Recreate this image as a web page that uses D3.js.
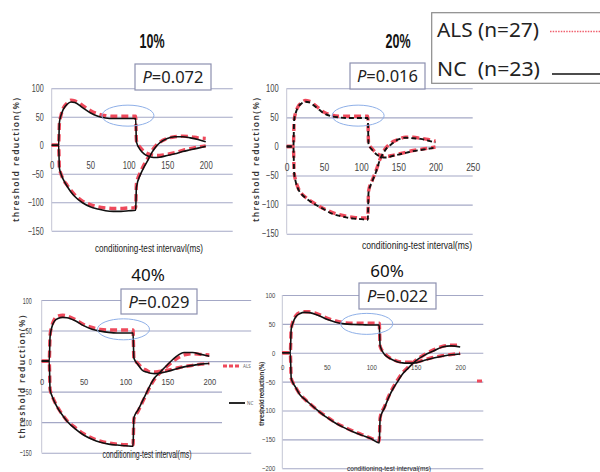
<!DOCTYPE html>
<html><head><meta charset="utf-8">
<script src="https://cdn.jsdelivr.net/npm/d3@7"></script>
<style>
body{margin:0;background:#fff}
svg{display:block}
</style></head><body><svg id="c" width="600" height="472"></svg>
<script>
// ---------------- data ----------------
const ctInterval = [0, 9, 10, 12, 15, 20, 25, 30, 40, 50, 60, 70, 80, 90, 100, 109, 110, 115, 120, 125, 130, 135, 140, 150, 160, 170, 180, 190, 200];

const panelTitles = ["10%", "20%", "40%", "60%"];
const pValues = ["0.072", "0.016", "0.029", "0.022"];
const seriesNames = ["ALS (n=27)", "NC  (n=23)"];
const yTicksA = [100, 50, 0, -50, -100, -150];
const yTicksB = [100, 50, 0, -50, -100, -150, -200];
const xTicksA = [0, 50, 100, 150, 200];
const xTicksB = [0, 50, 100, 150, 200, 250];

// 10%
const alsDep10 = [0,0,38,52,65,74,79,78,70,61,55,52,51,51,51,51,8,-4,-11,-15,-17,-18,-18,-16,-13,-9,-6,-3,-1];
const ncDep10  = [0,0,40,52,63,72,76,75,66,57,51,48,47,47,47,47,6,-8,-15,-19,-21,-21.5,-21,-18,-15,-11,-8,-5,-2];
const alsHyp10 = [0,0,-40,-50,-60,-70,-79,-87,-98,-104,-108,-110,-111,-111,-110,-110,-68,-48,-34,-22,-10,-1,5,12,15,16,15,13,12];
const ncHyp10  = [0,0,-40,-50,-60,-72,-82,-90,-101,-108,-112,-115,-116,-116,-115,-114,-74,-52,-38,-26,-13,-3,4,12,15,15,13,10,6];
// 20%
const alsDep20 = [0,0,45,58,68,75,79,78,69,59,54,52,52,52,52,52,5,-4,-11,-15,-17,-17,-16,-13,-10,-7,-5,-3,-1];
const ncDep20  = [0,0,45,57,67,74,77,76,67,57,52,50,49,49,49,49,4,-6,-13,-17,-19,-19,-17,-14,-11,-8,-6,-4,-2];
const alsHyp20 = [0,0,-45,-58,-70,-81,-87,-92,-100,-107,-113,-117,-120,-122,-123,-123,-77,-58,-42,-23,-9,0,6,12,16,16,14,12,9];
const ncHyp20  = [0,0,-45,-60,-72,-82,-88,-93,-101,-108,-115,-119,-122,-124,-125,-126,-79,-60,-44,-24,-11,-2,3,12,15,14,13,10,7];
// 40%
const alsDep40 = [0,0,42,57,68,74,75,74,68,60,55,52,51,51,51,51,4,-4,-11,-15,-18,-18,-17,-15,-12,-9,-7,-5,-4];
const ncDep40  = [0,0,40,55,65,70,71.5,71,66,58,52,49,47,46,46,46,5,-6,-15,-18,-20,-20.5,-20,-17,-13,-9.5,-7,-5,-4];
const alsHyp40 = [0,0,-46,-55,-65,-78,-88,-97,-109,-119,-126,-131,-134,-136,-137,-137,-95,-82,-68,-54,-40,-29,-21,-8,3,10,12,11,10];
const ncHyp40  = [0,0,-47,-56,-66,-79,-89,-98,-111,-121,-128,-133,-136,-137.5,-138.5,-139.5,-93,-80,-66,-52,-38,-27,-20,-6,7,14,14,11,8];
// 60%
const alsDep60 = [0,0,41,54,64,70,71,71,67,60,55,52,51,51,51,51,11,-1,-8,-12,-15,-16,-16.5,-16,-12,-8,-5,-3,-1];
const ncDep60  = [0,0,41,52,62,68,70,69.5,65,58,53,50,49,48.5,48,48,12,-3,-9,-13,-16,-17.5,-18,-17.5,-13,-9,-6,-3.5,-2];
const alsHyp60 = [0,0,-44,-52,-60,-72,-80,-87,-100,-111,-121,-129,-136,-142,-148,-153,-112,-93,-74,-59,-46,-35,-27,-13,-3,5,11,13,13];
const ncHyp60  = [0,0,-44,-52,-60,-73,-80,-87,-100,-112,-122,-130,-137,-143,-149,-156,-114,-95,-76,-61,-49,-37,-29,-14,-4,3,10,12,10];

// ---------------- layout ----------------
const RED = "#ee4a5c", BLACK = "#111", GRID = "#a4a8c6", BORDER = "#8c90b0";
const NARROW = "'Liberation Sans','Arial',sans-serif";
const SANS = "'Noto Sans','Open Sans',sans-serif";

const panels = [
  {xr:[51.7,232.7], xd:[0,235], yr:[230.7,88.3], yd:[-150,100], yt:yTicksA, xt:xTicksA, fs:10.5, xcw:4.3, ycw:4.0, xdy:21, ypad:8,
   data:[alsDep10,alsHyp10,ncDep10,ncHyp10], ncDash:null,
   title:{x:152,y:48,size:20,w:25,bold:true}, pbox:[135,64,76,26],
   ell:[99,52], ytitle:{x:19,y:160,size:8.5,len:124}, xtitle:{t:"conditioning-test intervavl(ms)",x:149,y:252,size:11,len:108}},
  {xr:[286.7,472.7], xd:[0,250], yr:[233.7,88.3], yd:[-150,100], yt:yTicksA, xt:xTicksB, fs:10, xcw:4.7, ycw:4.2, xdy:22, ypad:8,
   data:[alsDep20,alsHyp20,ncDep20,ncHyp20], ncDash:"5,3",
   title:{x:398,y:48,size:20,w:25,bold:true}, pbox:[350,63,75,26],
   ell:[96,53], ytitle:{x:259,y:160,size:8.5,len:124}, xtitle:{t:"conditioning-test interval(ms)",x:417,y:249,size:10,len:110}},
  {xr:[41.7,251.2], xd:[0,250], yr:[452.7,300], yd:[-150,100], yt:yTicksA, xt:xTicksA, fs:9.5, xcw:4.2, ycw:3.0, xdy:21, ypad:10,
   data:[alsDep40,alsHyp40,ncDep40,ncHyp40], ncDash:null,
   title:{x:148,y:281,size:17,w:0,bold:false}, pbox:[121,289,76,25],
   ell:[97.6,52], ytitle:{x:25,y:377,size:8.5,len:123}, xtitle:{t:"conditioning-test interval(ms)",x:147,y:458,size:10,len:89}},
  {xr:[282.3,483.3], xd:[0,226], yr:[468.3,295], yd:[-200,100], yt:yTicksB, xt:xTicksA, fs:7.5, xcw:3.4, ycw:3.3, xdy:15, ypad:7,
   data:[alsDep60,alsHyp60,ncDep60,ncHyp60], ncDash:null,
   title:{x:387,y:277,size:17,w:0,bold:false}, pbox:[359,283,77,26],
   ell:[95,50], ytitle:{x:264,y:394,size:6.5,len:64}, xtitle:{t:"conditioning-test interval(ms)",x:389,y:471,size:8,len:84}}
];

const svg = d3.select("#c");
svg.append("rect").attr("width",600).attr("height",472).attr("fill","#fff");

panels.forEach((p, i) => {
  const x = d3.scaleLinear().domain(p.xd).range(p.xr);
  const y = d3.scaleLinear().domain(p.yd).range(p.yr);
  const g = svg.append("g");
  const w = p.xr[1] - p.xr[0];

  // gridlines
  const grid = g.append("g").attr("transform", `translate(${p.xr[0]},0)`)
    .call(d3.axisLeft(y).tickValues(p.yt).tickSize(-w).tickFormat(""));
  grid.select(".domain").remove();
  grid.selectAll("line").attr("stroke", GRID).attr("stroke-width", 1.1);
  // left border
  g.append("line").attr("x1",p.xr[0]).attr("x2",p.xr[0]).attr("y1",p.yr[1]).attr("y2",p.yr[0])
    .attr("stroke","#c4c6d4").attr("stroke-width",1);

  // y tick labels
  const ya = g.append("g").attr("transform", `translate(${p.xr[0]},0)`)
    .call(d3.axisLeft(y).tickValues(p.yt).tickSize(0).tickPadding(p.ypad));
  ya.select(".domain").remove();
  ya.selectAll("text").attr("font-family", NARROW).attr("font-size", p.fs).attr("fill","#444")
    .attr("textLength", d => String(d).length * p.ycw).attr("lengthAdjust","spacingAndGlyphs");

  // x tick labels below zero line
  const xa = g.append("g").attr("transform", `translate(0,${y(0)})`)
    .call(d3.axisBottom(x).tickValues(p.xt).tickSize(0).tickPadding(p.xdy - p.fs*0.45));
  xa.select(".domain").remove();
  xa.selectAll("text").attr("font-family", NARROW).attr("font-size", p.fs).attr("fill","#444")
    .attr("textLength", d => String(d).length * p.xcw).attr("lengthAdjust","spacingAndGlyphs");

  // curves
  const line = d3.line().x((d, k) => x(ctInterval[k])).y(d => y(d)).curve(d3.curveMonotoneX);
  const [aD, aH, nD, nH] = p.data;
  [aD, aH].forEach(s => g.append("path").attr("d", line(s)).attr("fill","none")
    .attr("stroke", RED).attr("stroke-width", 3.4).attr("stroke-dasharray","7,4").attr("stroke-linejoin","round"));
  [nD, nH].forEach(s => {
    const pth = g.append("path").attr("d", line(s)).attr("fill","none")
      .attr("stroke", BLACK).attr("stroke-width", p.ncDash ? 1.9 : 1.6).attr("stroke-linejoin","round");
    if (p.ncDash) pth.attr("stroke-dasharray", p.ncDash);
  });

  // ellipse annotation
  g.append("ellipse").attr("cx", x(p.ell[0])).attr("cy", y(p.ell[1])).attr("rx", 26).attr("ry", 10.5)
    .attr("fill","none").attr("stroke","#8fb0e8").attr("stroke-width",1);

  // P box
  const [bx, by, bw, bh] = p.pbox;
  g.append("rect").attr("x",bx).attr("y",by).attr("width",bw).attr("height",bh)
    .attr("fill","#fff").attr("stroke",BORDER).attr("stroke-width",1.2);
  const pt = g.append("text").attr("x", bx + bw/2).attr("y", by + bh/2 + 6).attr("text-anchor","middle")
    .attr("font-family", SANS).attr("font-size", 16.5).attr("fill","#222");
  pt.append("tspan").attr("font-style","italic").text("P");
  pt.append("tspan").text("=" + pValues[i]);

  // title
  const t = g.append("text").attr("x", p.title.x).attr("y", p.title.y).attr("text-anchor","middle")
    .attr("font-size", p.title.size).attr("fill","#111")
    .attr("font-family", p.title.bold ? NARROW : SANS)
    .attr("font-weight", p.title.bold ? "bold" : "normal").text(panelTitles[i]);
  if (p.title.w) t.attr("textLength", p.title.w).attr("lengthAdjust","spacingAndGlyphs");

  // y axis title (letter-spaced)
  g.append("text").attr("transform", `translate(${p.ytitle.x},${p.ytitle.y}) rotate(-90)`)
    .attr("text-anchor","middle").attr("font-family", SANS).attr("font-size", p.ytitle.size)
    .attr("font-weight", 600).attr("fill","#333")
    .attr("textLength", p.ytitle.len).attr("lengthAdjust","spacing")
    .text(i === 3 ? "threshold reduction (%)" : "threshold reduction(%)");
  // x axis title
  g.append("text").attr("x", p.xtitle.x).attr("y", p.xtitle.y).attr("text-anchor","middle")
    .attr("font-family", NARROW).attr("font-size", p.xtitle.size).attr("fill","#222")
    .attr("textLength", p.xtitle.len).attr("lengthAdjust","spacingAndGlyphs").text(p.xtitle.t);
});

// small legend remnant beside the 40% panel
svg.append("rect").attr("x",222).attr("y",382).attr("width",32).attr("height",44).attr("fill","#fff");
svg.append("line").attr("x1",223).attr("x2",240).attr("y1",366).attr("y2",366)
  .attr("stroke",RED).attr("stroke-width",3).attr("stroke-dasharray","4,2");
svg.append("text").attr("x",243).attr("y",368).attr("font-size",4.5).attr("font-family",SANS).attr("fill","#666").text("ALS");
svg.append("line").attr("x1",229).attr("x2",245).attr("y1",403).attr("y2",403)
  .attr("stroke",BLACK).attr("stroke-width",1.8);
svg.append("text").attr("x",247).attr("y",405).attr("font-size",4.5).attr("font-family",SANS).attr("fill","#666").text("NC");
// stray red dash beside the 60% panel
svg.append("line").attr("x1",477).attr("x2",482).attr("y1",381).attr("y2",381).attr("stroke",RED).attr("stroke-width",3);

// main legend
const lg = svg.append("g");
lg.append("rect").attr("x",431.7).attr("y",12.7).attr("width",180).attr("height",70.6)
  .attr("fill","#fff").attr("stroke","#8a8a8a").attr("stroke-width",1.2);
lg.append("text").attr("x",437).attr("y",37).attr("font-family",SANS).attr("font-size",19.5).attr("fill","#222")
  .attr("textLength",102).attr("lengthAdjust","spacingAndGlyphs").text(seriesNames[0]);
lg.append("text").attr("x",437).attr("y",76).attr("font-family",SANS).attr("font-size",19.5).attr("fill","#222")
  .attr("textLength",103).attr("lengthAdjust","spacingAndGlyphs").attr("xml:space","preserve").style("white-space","pre").text(seriesNames[1]);
lg.append("line").attr("x1",550).attr("x2",600).attr("y1",31.5).attr("y2",31.5)
  .attr("stroke","#f0606e").attr("stroke-width",1.6).attr("stroke-dasharray","1.5,1.2");
lg.append("line").attr("x1",552).attr("x2",600).attr("y1",74).attr("y2",74)
  .attr("stroke",BLACK).attr("stroke-width",1.5);
</script></body></html>
